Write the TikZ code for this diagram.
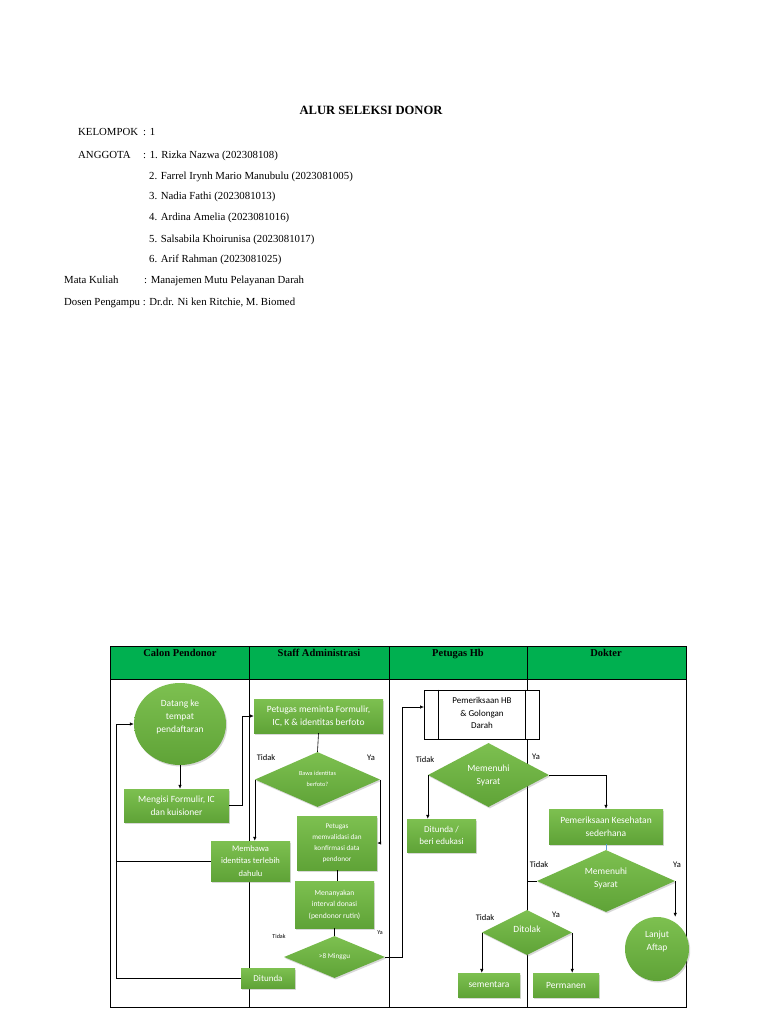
\documentclass[tikz,border=0pt]{standalone}
\usepackage{fontspec}
\setmainfont{Liberation Serif}
\newfontfamily\carl{Carlito}
\usetikzlibrary{shapes.geometric,shadows,arrows.meta,calc}
\definecolor{hdr}{HTML}{00B050}
\definecolor{gtop}{HTML}{7DC050}
\definecolor{gbot}{HTML}{5FA337}
\definecolor{bline}{HTML}{5B9BD5}
\begin{document}
\begin{tikzpicture}[x=1pt,y=-1pt,
  gfill/.style={top color=gtop, bottom color=gbot, draw=none,
    drop shadow={shadow xshift=1.2pt,shadow yshift=-1.5pt,opacity=0.3}},
  gbox/.style={gfill, rectangle, text=white, align=center, inner sep=0pt},
  gdia/.style={gfill, diamond, inner sep=0pt},
  gell/.style={gfill, ellipse, text=white, align=center, inner sep=0pt},
  dtext/.style={text=white, align=center, inner sep=0pt},
  lab/.style={inner sep=0pt, font=\carl\fontsize{8.5}{10}\selectfont},
  slab/.style={inner sep=0pt, font=\carl\fontsize{6}{7}\selectfont},
  hdrtext/.style={inner sep=0pt, anchor=base, font=\bfseries\fontsize{10.5}{12}\selectfont},
  body/.style={inner sep=0pt, anchor=base west, font=\fontsize{10.8}{13}\selectfont},
  conn/.style={line width=0.6pt},
  arr/.style={conn, -{Latex[length=4pt,width=3.5pt]}},
  f95/.style={font=\carl\fontsize{9.5}{13}\selectfont},
  f9/.style={font=\carl\fontsize{9}{12.5}\selectfont},
  f85/.style={font=\carl\fontsize{8.5}{12.5}\selectfont},
  f78/.style={font=\carl\fontsize{7.6}{11.5}\selectfont},
  f72/.style={font=\carl\fontsize{7.2}{11}\selectfont},
  f6/.style={font=\carl\fontsize{6.2}{11}\selectfont}
]
\useasboundingbox (0,0) rectangle (768,1024);
\fill[white] (0,0) rectangle (768,1024);

% ---------- heading text ----------
\node[inner sep=0pt, font=\bfseries\fontsize{12.6}{14}\selectfont, anchor=base] (title) at (371,114.5) {ALUR SELEKSI DONOR};
\node[body] (kel) at (78,136) {KELOMPOK};
\node[body] (kelv) at (143,136) {: 1};
\node[body] (ang) at (78,159) {ANGGOTA};
\node[body] (angv) at (143,159) {: 1. Rizka Nazwa (202308108)};
\node[body] (m2) at (149,180) {2. Farrel Irynh Mario Manubulu (2023081005)};
\node[body] (m3) at (149,200) {3. Nadia Fathi (2023081013)};
\node[body] (m4) at (149,221) {4. Ardina Amelia (2023081016)};
\node[body] (m5) at (149,242) {5. Salsabila Khoirunisa (2023081017)};
\node[body] (m6) at (149,262) {6. Arif Rahman (2023081025)};
\node[body] (mk) at (64,283) {Mata Kuliah};
\node[body] (mkv) at (144,283) {: Manajemen Mutu Pelayanan Darah};
\node[body] (dp) at (64,305) {Dosen Pengampu : Dr.dr. Ni ken Ritchie, M. Biomed};

% ---------- swimlane table ----------
\fill[hdr] (110,646) rectangle (686,679);
\draw[line width=0.8pt] (110,646) rectangle (686,1007);
\draw[line width=0.8pt] (110,679) -- (686,679);
\foreach \xx in {249,389,527} \draw[line width=0.8pt] (\xx,646) -- (\xx,1007);
\node[hdrtext] (h1) at (180,656.5) {Calon Pendonor};
\node[hdrtext] (h2) at (319,656.5) {Staff Administrasi};
\node[hdrtext] (h3) at (458,656.5) {Petugas Hb};
\node[hdrtext] (h4) at (606,656.5) {Dokter};

% ---------- shapes ----------
\node[gell, f95, minimum width=92, minimum height=82] (datang) at (180,724) {Datang ke\\tempat\\pendaftaran\\[2pt]};
\node[gbox, f95, minimum width=105, minimum height=33] (mengisi) at (176.5,805.5) {Mengisi Formulir, IC\\dan kuisioner};
\node[gbox, f95, minimum width=129, minimum height=34] (petugas) at (318.5,716) {Petugas meminta Formulir,\\IC, K \& identitas berfoto};
\node[gdia, minimum width=125, minimum height=55] (bawa) at (317.5,779.5) {};
\node[dtext, f6] (bawat) at (317.5,779) {Bawa identitas\\berfoto?};
\node[gbox, f72, minimum width=80, minimum height=54] (valid) at (337,843) {Petugas\\memvalidasi dan\\konfirmasi data\\pendonor};
\node[gbox, f85, minimum width=79, minimum height=40] (membawa) at (250.5,861) {Membawa\\identitas terlebih\\dahulu};
\node[gbox, f78, minimum width=79, minimum height=47] (tanya) at (334.5,904.5) {Menanyakan\\interval donasi\\(pendonor rutin)};
\node[gdia, minimum width=101, minimum height=42] (minggu) at (334.5,957) {};
\node[dtext, f72] (minggut) at (334.5,957) {>8 Minggu};
\node[gbox, f9, minimum width=54, minimum height=20] (tunda1) at (268,978) {Ditunda};

\node[draw, fill=white, line width=0.8pt, minimum width=115, minimum height=49, inner sep=0pt] (hb) at (481.5,714.5) {};
\draw[line width=0.8pt] ($(hb.north west)+(15,0)$) -- ($(hb.south west)+(15,0)$);
\draw[line width=0.8pt] ($(hb.north east)+(-14,0)$) -- ($(hb.south east)+(-14,0)$);
\node[inner sep=0pt, align=center, f9] (hbt) at (482,713) {Pemeriksaan HB\\\& Golongan\\Darah};
\node[gdia, minimum width=121, minimum height=64] (syarat1) at (488.5,775) {};
\node[dtext, f95] (syarat1t) at (488.5,775) {Memenuhi\\Syarat};
\node[gbox, f9, minimum width=69, minimum height=33] (tunda2) at (441.5,835.5) {Ditunda /\\beri edukasi};

\node[gbox, f95, minimum width=114, minimum height=35] (sehat) at (606,826.5) {Pemeriksaan Kesehatan\\sederhana};
\node[gdia, minimum width=138, minimum height=62] (syarat2) at (606,881) {};
\node[dtext, f95] (syarat2t) at (606,878) {Memenuhi\\Syarat};
\node[gell, f95, minimum width=64, minimum height=64] (aftap) at (657,949) {Lanjut\\Aftap\\[4pt]};
\node[gdia, minimum width=90, minimum height=45] (ditolak) at (527,932.5) {};
\node[dtext, f95] (ditolakt) at (527,929) {Ditolak};
\node[gbox, f95, minimum width=62, minimum height=24] (sementara) at (489,985) {sementara};
\node[gbox, f95, minimum width=66, minimum height=24] (permanen) at (566,985) {Permanen};

% ---------- labels ----------
\node[lab] (l1) at (266,758) {Tidak};
\node[lab] (l2) at (371,758) {Ya};
\node[slab] (l3) at (279,936) {Tidak};
\node[slab] (l4) at (380,933) {Ya};
\node[lab] (l5) at (425,760) {Tidak};
\node[lab] (l6) at (536,757) {Ya};
\node[lab] (l7) at (539,865) {Tidak};
\node[lab] (l8) at (677,865) {Ya};
\node[lab] (l9) at (485,918) {Tidak};
\node[lab] (l10) at (556,915) {Ya};

% ---------- connectors ----------
\coordinate (loopc) at (116,724);
\coordinate (hbin) at (424,707);
\coordinate (lanex) at (527,881);

\draw[arr] (datang.south) -- (mengisi.north -| datang.south);
\draw[arr] (mengisi.east) -- ++(13,0) |- (petugas.west);
\draw[conn] (petugas.south) -- (bawa.north);
\draw[arr] (bawa.west) -- (bawa.west |- membawa.north);
\draw[arr] (bawa.east) |- (valid.east);
\draw[conn] (valid.south) -- (tanya.north -| valid.south);
\draw[conn] (tanya.south) -- (minggu.north);
\draw[arr] (minggu.east) -- ++(17,0) |- (hbin);
\draw[conn] (membawa.west) -- (membawa.west -| loopc);
\draw[arr] (tunda1.west) -| (loopc) -- (datang.west);

\draw[arr] (syarat1.west) -- (syarat1.west |- tunda2.north);
\draw[arr] (syarat1.east) -| (sehat.north);
\draw[conn, bline] (sehat.south) -- (syarat2.north);
\draw[conn] (syarat2.west) -- (lanex);
\draw[arr] (syarat2.east) -- (syarat2.east |- aftap.north);
\draw[arr] (ditolak.west) -- (ditolak.west |- sementara.north);
\draw[arr] (ditolak.east) -- (ditolak.east |- permanen.north);
\end{tikzpicture}
\end{document}
